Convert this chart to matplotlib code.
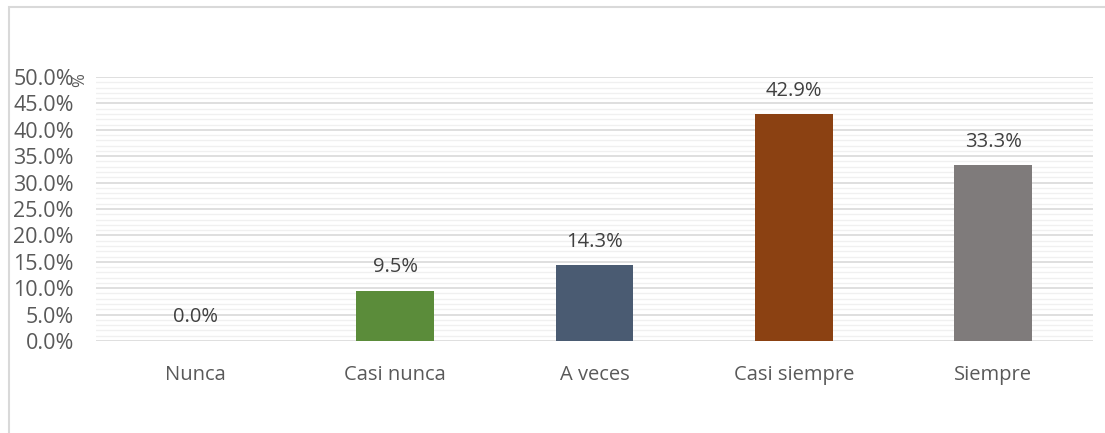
import matplotlib
matplotlib.use("Agg")
import matplotlib.pyplot as plt
from matplotlib.ticker import MultipleLocator, FuncFormatter
from matplotlib.patches import Rectangle

categories = ["Nunca", "Casi nunca", "A veces", "Casi siempre", "Siempre"]
values = [0.0, 9.5, 14.3, 42.9, 33.3]
colors = ["#5B8C3A", "#5B8C3A", "#4A5B72", "#8B4112", "#7F7B7B"]

plt.rcParams['font.family'] = ['Open Sans', 'DejaVu Sans']

fig = plt.figure(figsize=(11.05, 4.33), dpi=100)
W, H = 1105, 433
ax = fig.add_axes([96 / W, 1 - 341 / H, (1093 - 96) / W, (341 - 77) / H])

# outer chart border (cropped on right and bottom)
fig.patches.append(Rectangle((9 / W, -0.1), 1.2, 1 - 7 / H + 0.1, transform=fig.transFigure,
                             fill=False, edgecolor="#D9D9D9", linewidth=1.5))

x = list(range(len(categories)))
ax.bar(x, values, width=0.39, color=colors, zorder=3)
ax.set_xlim(-0.5, len(categories) - 0.5)
ax.set_ylim(0, 50)
ax.yaxis.set_major_locator(MultipleLocator(5))
ax.yaxis.set_minor_locator(MultipleLocator(1))
ax.yaxis.set_major_formatter(FuncFormatter(lambda v, p: f"{v:.1f}%"))
ax.grid(axis='y', which='major', color="#D9D9D9", linewidth=1.2, zorder=0)
ax.grid(axis='y', which='minor', color="#F0F0F0", linewidth=1.0, zorder=0)
ax.set_xticks(x)
ax.set_xticklabels(categories)
ax.tick_params(axis='both', which='both', length=0, labelsize=14.5, colors="#595959")
ax.tick_params(axis='y', labelsize=15.5, pad=16)
ax.tick_params(axis='x', pad=17)
for s in ax.spines.values():
    s.set_visible(False)

for xi, v in zip(x, values):
    ax.annotate(f"{v:.1f}%", (xi, v), xytext=(0, 17), textcoords="offset points",
                ha="center", va="center", fontsize=14.5, color="#404040")

fig.text(80 / W, 1 - 80 / H, "%", rotation=90, ha="center", va="center", fontsize=12, color="#595959")

fig.savefig("out.png", dpi=100)
